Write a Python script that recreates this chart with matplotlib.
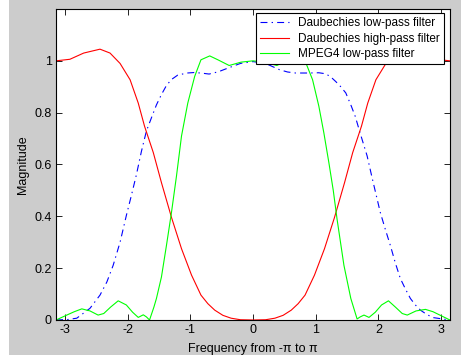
"""Magnitude responses of the Daubechies and MPEG4 filters (MATLAB-style figure)."""

import matplotlib
matplotlib.use("Agg")
import matplotlib.pyplot as plt
from matplotlib.patches import Rectangle
import numpy as np

# %% data
w_lp = [-3.14, -2.95, -2.81, -2.60, -2.44, -2.33, -2.23, -2.12, -2.02, -1.94, -1.86,
        -1.78, -1.70, -1.62, -1.54, -1.46, -1.38, -1.30, -1.20, -1.05, -0.93, -0.80,
        -0.70, -0.55, -0.40, -0.20, 0.00, 0.20, 0.42, 0.55, 0.68, 0.89, 1.05, 1.16,
        1.24, 1.32, 1.40, 1.48, 1.56, 1.63, 1.71, 1.82, 1.90, 2.03, 2.11, 2.19, 2.27,
        2.35, 2.43, 2.51, 2.59, 2.67, 2.78, 2.88, 3.14]
daub_lp = [0.0, 0.002, 0.007, 0.045, 0.096, 0.147, 0.211, 0.300, 0.403, 0.480, 0.560,
           0.650, 0.729, 0.780, 0.830, 0.870, 0.905, 0.928, 0.945, 0.953, 0.955, 0.952,
           0.949, 0.958, 0.972, 0.990, 0.997, 0.990, 0.966, 0.957, 0.953, 0.953, 0.954,
           0.950, 0.938, 0.920, 0.900, 0.876, 0.830, 0.786, 0.720, 0.633, 0.548, 0.415,
           0.350, 0.288, 0.220, 0.160, 0.120, 0.083, 0.058, 0.038, 0.020, 0.009, 0.0]

w_hp = [-3.14, -2.92, -2.70, -2.44, -2.28, -2.12, -1.96, -1.83, -1.73, -1.59, -1.46,
        -1.30, -1.14, -0.98, -0.83, -0.72, -0.61, -0.48, -0.35, -0.20, 0.00, 0.20,
        0.35, 0.48, 0.61, 0.72, 0.83, 0.98, 1.14, 1.30, 1.46, 1.59, 1.73, 1.83, 1.96,
        2.12, 2.28, 2.44, 2.70, 2.92, 3.14]
daub_hp = [1.000, 1.006, 1.030, 1.045, 1.030, 0.990, 0.927, 0.837, 0.748, 0.646, 0.530,
           0.396, 0.275, 0.173, 0.096, 0.063, 0.038, 0.018, 0.007, 0.001, 0.000, 0.001,
           0.007, 0.018, 0.038, 0.063, 0.096, 0.173, 0.275, 0.396, 0.530, 0.646, 0.748,
           0.837, 0.927, 0.990, 1.030, 1.045, 1.030, 1.006, 1.000]

w_mp = [-3.14, -2.97, -2.85, -2.73, -2.60, -2.47, -2.38, -2.27, -2.15, -2.02, -1.92,
        -1.83, -1.75, -1.70, -1.65, -1.58, -1.54, -1.46, -1.38, -1.30, -1.22, -1.14,
        -1.04, -0.93, -0.83, -0.69, -0.56, -0.38, -0.19, 0.00, 0.19, 0.38, 0.56, 0.69,
        0.83, 0.95, 1.05, 1.13, 1.21, 1.28, 1.34, 1.45, 1.56, 1.66, 1.71, 1.77, 1.85,
        1.95, 2.05, 2.16, 2.27, 2.38, 2.46, 2.60, 2.75, 2.87, 2.98, 3.14]
mpeg4_lp = [0.0, 0.019, 0.032, 0.043, 0.035, 0.019, 0.025, 0.050, 0.074, 0.058, 0.030,
            0.010, 0.020, 0.012, 0.000, 0.050, 0.083, 0.166, 0.288, 0.415, 0.556, 0.710,
            0.837, 0.940, 1.004, 1.019, 1.004, 0.982, 0.995, 1.000, 0.995, 0.982, 1.004,
            1.019, 1.000, 0.927, 0.825, 0.722, 0.607, 0.500, 0.390, 0.211, 0.083, 0.004,
            0.012, 0.019, 0.010, 0.030, 0.058, 0.074, 0.050, 0.025, 0.019, 0.035, 0.041,
            0.032, 0.019, 0.0]

labels = ["Daubechies low-pass filter", "Daubechies high-pass filter",
          "MPEG4 low-pass filter"]
x_ticks = [-3, -2, -1, 0, 1, 2, 3]
y_ticks = [0, 0.2, 0.4, 0.6, 0.8, 1]
y_ticklabels = ["0", "0.2", "0.4", "0.6", "0.8", "1"]

# %% figure
plt.rcParams["font.family"] = ["Liberation Sans", "DejaVu Sans"]
plt.rcParams["axes.unicode_minus"] = False
plt.rcParams["lines.scale_dashes"] = False

fig = plt.figure(figsize=(4.61, 3.6), dpi=100, facecolor="white")
# grey MATLAB figure background (leaves a thin white strip left and bottom)
fig.patches.append(Rectangle((9 / 461, 5 / 360), 452 / 461, 355 / 360,
                             transform=fig.transFigure, facecolor="#cccccc",
                             edgecolor="none", zorder=-10))

ax = fig.add_axes([56 / 461, 40 / 360, 394 / 461, 311 / 360])
ax.set_facecolor("white")

ax.plot(w_lp, daub_lp, color="#0000ff", lw=0.8, linestyle=(0, (5.0, 3.0, 1.0, 3.0)),
        label=labels[0])
ax.plot(w_hp, daub_hp, color="#ff0000", lw=0.8, label=labels[1])
ax.plot(w_mp, mpeg4_lp, color="#00ff00", lw=0.8, label=labels[2])

ax.set_xlim(-np.pi, np.pi)
ax.set_ylim(0, 1.2)
ax.set_xticks(x_ticks)
ax.set_xticklabels([str(t) for t in x_ticks])
ax.set_yticks(y_ticks)
ax.set_yticklabels(y_ticklabels)
ax.tick_params(direction="in", length=4, width=0.6, top=True, right=True,
               labelsize=9, colors="black", pad=3)
for s in ax.spines.values():
    s.set_linewidth(0.8)

ax.set_xlabel("Frequency from -π to π", fontsize=9, labelpad=5)
ax.set_ylabel("Magnitude", fontsize=9, labelpad=4)

leg = ax.legend(loc="upper right", bbox_to_anchor=(388 / 394, 307 / 311),
                borderaxespad=0, fancybox=False, framealpha=1, edgecolor="black",
                fontsize=8.5, handlelength=2.4, handletextpad=0.8, labelspacing=0.3,
                borderpad=0.35)
leg.get_frame().set_linewidth(0.8)

fig.savefig("out.png", dpi=100, facecolor=fig.get_facecolor())
